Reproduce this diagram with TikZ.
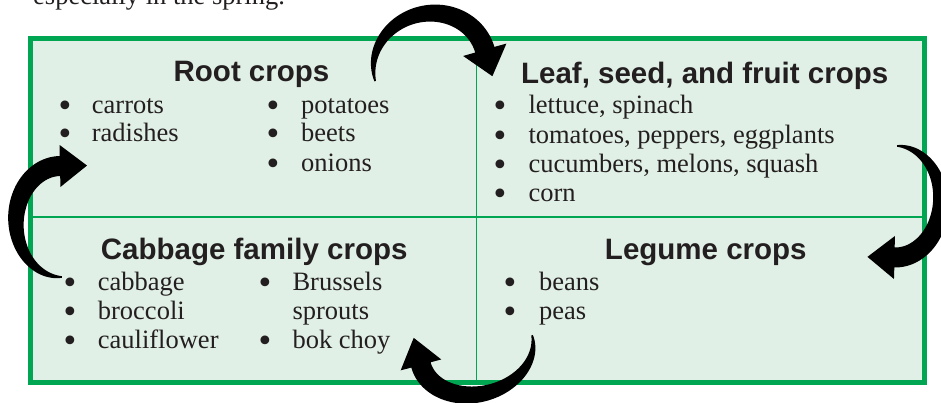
\documentclass[tikz,border=0pt]{standalone}
\usepackage{fontspec}
\setmainfont{Liberation Serif}
\newfontfamily\headfont{Liberation Sans}
\newfontfamily\bulfont{DejaVu Sans}
\definecolor{boxfill}{RGB}{225,240,230}
\definecolor{boxgreen}{RGB}{0,166,81}
\definecolor{ink}{RGB}{35,31,32}
\tikzset{
  headtext/.style={anchor=base, inner sep=0pt, text=ink, font=\headfont\bfseries\fontsize{29.5}{32}\selectfont},
  itemtext/.style={anchor=base west, inner sep=0pt, text=ink, font=\fontsize{26.5}{29}\selectfont},
  bullettext/.style={anchor=base, inner sep=0pt, text=ink, font=\bulfont\fontsize{30}{32}\selectfont},
  arrowfill/.style={fill=black},
}
% #1 cx, #2 cy, #3 rotation (clockwise on screen), #4 rx, #5 ry, #6 max width, #7 head half width, #8 head length
\newcommand{\bigarrow}[8]{%
  \begin{scope}[shift={(#1,#2)}, rotate={-(#3)}]
    \fill[arrowfill]
      plot[domain=0:1, samples=60, variable=\t]
        ({(#4 + 0.8 + (#6/2-0.8)*\t*(2-\t))*cos(90+180*\t)},
         {(#5 + 0.8 + (#6/2-0.8)*\t*(2-\t))*sin(90+180*\t)})
      -- (0,{-(#5)-(#7)}) -- (#8,{-(#5)}) -- (0,{-(#5)+(#7)})
      -- plot[domain=1:0, samples=60, variable=\t]
        ({(#4 - 0.8 - (#6/2-0.8)*\t*(2-\t))*cos(90+180*\t)},
         {(#5 - 0.8 - (#6/2-0.8)*\t*(2-\t))*sin(90+180*\t)})
      -- cycle;
  \end{scope}}
\newcommand{\listitem}[5]{% name, bullet x, text x, baseline y, text
  \node[bullettext] (#1b) at (#2,{#4+3}) {•};
  \node[itemtext] (#1) at (#3,#4) {#5};}
\begin{document}
\begin{tikzpicture}[x=1pt,y=-1pt]
  \useasboundingbox (0,0) rectangle (941,403);
  % partially visible line of text above
  \node[itemtext] (intro) at (33,5) {especially in the spring.};
  % box
  \fill[boxfill] (30.5,38.5) rectangle (924.5,382.5);
  \coordinate (vtop) at (476.7,38.5);
  \coordinate (vbot) at (476.7,382.5);
  \coordinate (hl) at (30.5,217);
  \coordinate (hr) at (924.5,217);
  \draw[boxgreen, line width=1.4pt] (vtop) -- (vbot);
  \draw[boxgreen, line width=1.4pt] (hl) -- (hr);
  \draw[boxgreen, line width=5pt] (30.5,38.5) rectangle (924.5,382.5);
  % titles
  \node[headtext] (root) at (251.5,81.7) {Root crops};
  \node[headtext] (leaf) at (704.7,83.3) {Leaf, seed, and fruit crops};
  \node[headtext] (cabbage) at (254.2,259.3) {Cabbage family crops};
  \node[headtext] (legume) at (705.8,259.3) {Legume crops};
  % root crops
  \listitem{carrots}{65}{91.7}{113.3}{carrots}
  \listitem{radishes}{65}{91.7}{142}{radishes}
  \listitem{potatoes}{273}{301}{113.3}{potatoes}
  \listitem{beets}{273}{301}{142}{beets}
  \listitem{onions}{273}{301}{171.5}{onions}
  % leaf crops
  \listitem{lettuce}{500.7}{528.3}{114}{lettuce, spinach}
  \listitem{tomatoes}{500.7}{528.3}{143.3}{tomatoes, peppers, eggplants}
  \listitem{cucumbers}{500.7}{528.3}{172.7}{cucumbers, melons, squash}
  \listitem{corn}{500.7}{528.3}{201.7}{corn}
  % cabbage crops
  \listitem{cab}{70.7}{97.7}{290.7}{cabbage}
  \listitem{broccoli}{70.7}{97.7}{319.3}{broccoli}
  \listitem{cauli}{70.7}{97.7}{348.3}{cauliflower}
  \listitem{brussels}{265}{292.3}{290.7}{Brussels}
  \node[itemtext] (sprouts) at (292.3,319.3) {sprouts};
  \listitem{bokchoy}{265}{292.3}{348.3}{bok choy}
  % legume crops
  \listitem{beans}{510.7}{539}{290}{beans}
  \listitem{peas}{510.7}{539}{319.3}{peas}
  % cycle arrows
  \bigarrow{61}{221.5}{359}{45}{55.5}{20}{21}{27}
  \bigarrow{430}{65.5}{74}{52}{57}{20}{22.5}{27.5}
  \bigarrow{895.7}{201.7}{181.3}{45}{55.8}{20}{21.5}{27}
  \bigarrow{476.5}{350}{255}{44}{57.5}{20}{21}{28}
\end{tikzpicture}
\end{document}
